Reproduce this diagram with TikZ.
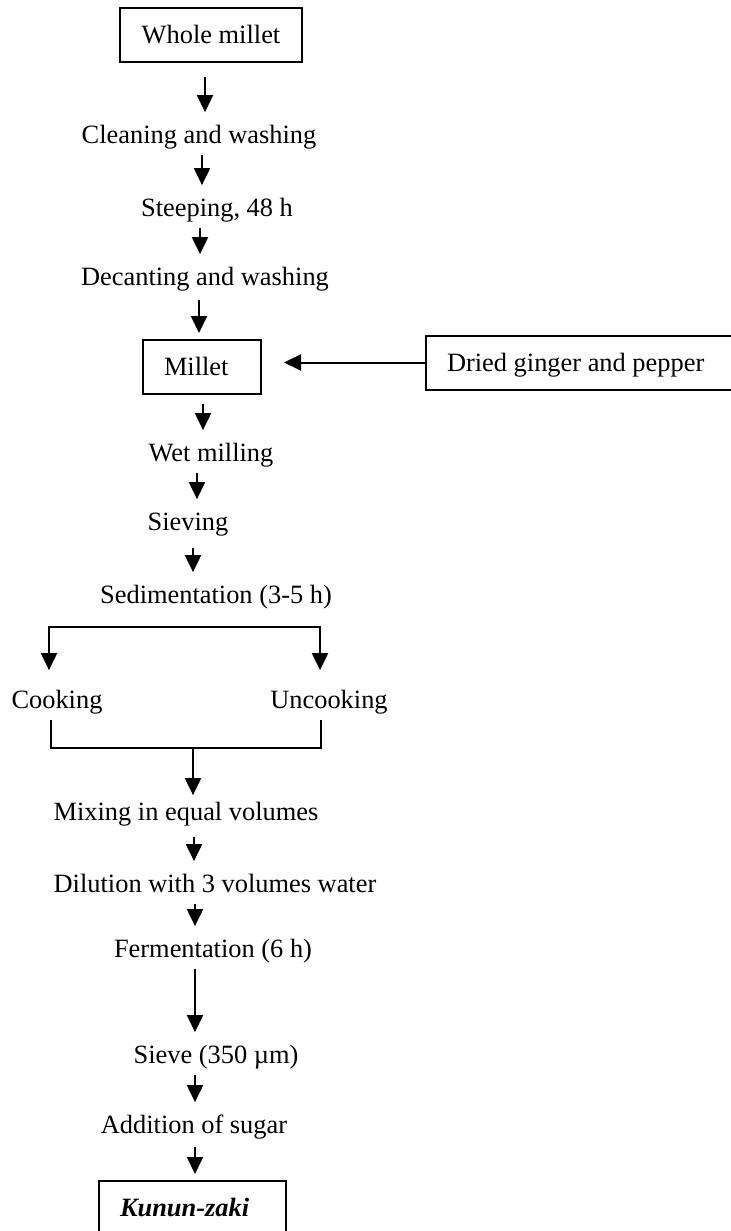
\documentclass[tikz,border=0pt]{standalone}
\usepackage{fontspec}
\setmainfont{Liberation Serif}
\usetikzlibrary{arrows.meta}

\begin{document}
\begin{tikzpicture}[x=0.5pt, y=-0.5pt,
    every node/.style={font=\fontsize{13.2pt}{16pt}\selectfont},
    >={Triangle[width=8pt,length=8.5pt]},
    stage/.style={anchor=base, inner xsep=0pt, inner ysep=3pt, text height=9.24pt, text depth=2.9pt},
    box/.style={draw, line width=1pt, minimum height=27pt, inner xsep=10.5pt, align=flush left, text height=9.24pt, text depth=0.5pt},
    flow/.style={->, line width=1pt, shorten >=3pt},
    merger/.style={line width=0.65pt}]

    % Frame of the page
    \path[use as bounding box] (0,0) rectangle (731,1231);
    \clip (0,0) rectangle (731,1231);

    % Boxes
    \node[box, align=center, minimum width=91pt] (whole) at (211,35) {Whole millet};
    \node[box, text width=38pt] (millet) at (202,367) {Millet};
    \node[box, text width=136pt] (ginger) at (583,362.5) {Dried ginger and pepper};
    \node[box, text width=72.5pt] (kunun) at (192.5,1208) {\textbf{\textit{Kunun-zaki}}};

    % Process steps
    \node[stage] (clean) at (199,143) {Cleaning and washing};
    \node[stage] (steep) at (217,216) {Steeping, 48 h};
    \node[stage] (decant) at (205,285) {Decanting and washing};
    \node[stage] (wet) at (211,461) {Wet milling};
    \node[stage] (sieving) at (188,530) {Sieving};
    \node[stage] (sedim) at (216,603) {Sedimentation (3-5 h)};
    \node[stage] (cook) at (57,708) {Cooking};
    \node[stage] (uncook) at (329,708) {Uncooking};
    \node[stage] (mix) at (186,820) {Mixing in equal volumes};
    \node[stage] (dilute) at (215,892) {Dilution with 3 volumes water};
    \node[stage] (ferment) at (213,957) {Fermentation (6 h)};
    \node[stage] (sieve) at (216,1063) {Sieve (350 µm)};
    \node[stage] (sugar) at (194,1133) {Addition of sugar};

    % Straight arrows down the chain
    \foreach \a/\b/\x/\s in {whole/clean/205/7pt, clean/steep/202/0pt, steep/decant/200/0pt,
        decant/millet/199/1.5pt, millet/wet/203/4.5pt, wet/sieving/197/0pt, sieving/sedim/193/3pt,
        mix/dilute/194/2.5pt, dilute/ferment/195/0pt, ferment/sieve/195/0pt,
        sieve/sugar/195/0pt, sugar/kunun/195/1pt} {
        \draw[flow, shorten <=\s] (\a.south -| \x,0) -- (\b.north -| \x,0);
    }

    % Spices added to the millet
    \draw[flow, shorten >=11pt] (ginger.west) -- (millet.east |- ginger.west);

    % Split into cooked and uncooked parts
    \coordinate (splitL) at (49,627);
    \coordinate (splitR) at (320,627);
    \draw[flow, <->, shorten <=6.5pt, shorten >=6.5pt] (cook.north -| splitL) -- (splitL) -- (splitR) -- (uncook.north -| splitR);

    % Both parts joined again
    \coordinate (merge) at (193,748);
    \draw[merger] (cook.south -| 51,0) |- (merge) -| (uncook.south -| 321,0);
    \draw[flow, shorten >=0pt] (merge) -- (mix.north -| merge);
\end{tikzpicture}
\end{document}
